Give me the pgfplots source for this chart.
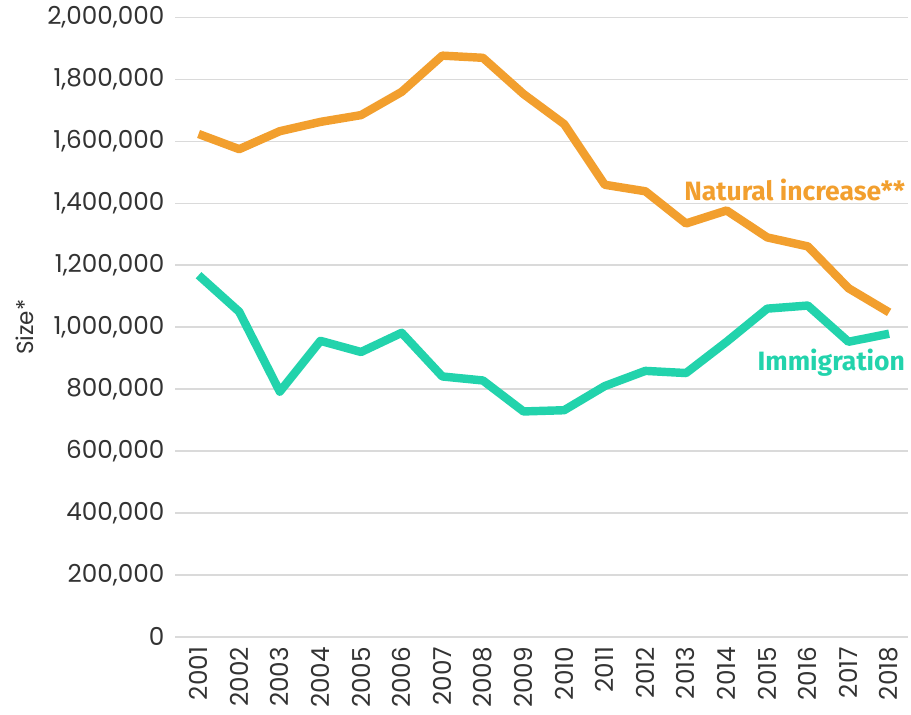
\documentclass[border=0pt]{standalone}
\usepackage{pgfplots}
\pgfplotsset{compat=1.18}
\usepackage{fontspec}
\setmainfont{Poppins}
\newfontfamily\labfont{Fira Sans}
\definecolor{natorange}{HTML}{F29F2E}
\definecolor{immteal}{HTML}{22D3AC}
\definecolor{gridgray}{HTML}{DADADA}
\definecolor{txtgray}{HTML}{333333}
\begin{document}
\begin{tikzpicture}
\begin{axis}[
  scale only axis,
  width=365pt, height=308.5pt,
  xmin=2000.43, xmax=2018.47,
  ymin=0, ymax=2000000,
  axis line style={draw=none},
  ytick={0,200000,...,2000000},
  xtick={2001,...,2018},
  ymajorgrids,
  grid style={gridgray, line width=0.8pt},
  major tick length=0pt,
  tick style={draw=none},
  scaled y ticks=false,
  /pgf/number format/assume math mode=true,
  yticklabel={\pgfmathprintnumber[fixed,1000 sep={,}]{\tick}},
  xticklabel={\pgfmathprintnumber[fixed,1000 sep={}]{\tick}},
  xticklabel style={rotate=90, anchor=east, xshift=-1.5pt},
  ticklabel style={font=\fontsize{12.3}{14}\selectfont, text=txtgray},
  yticklabel style={xshift=-2pt},
  ylabel={Size*},
  ylabel style={font=\fontsize{11.5}{13}\selectfont, text=txtgray},
  clip=false,
]
\addplot[natorange, line width=4.2pt, line join=round] coordinates {
(2001,1624000) (2002,1575000) (2003,1633000) (2004,1663000) (2005,1685000)
(2006,1760000) (2007,1877000) (2008,1870000) (2009,1753000) (2010,1656000)
(2011,1460000) (2012,1439000) (2013,1335000) (2014,1377000) (2015,1290000)
(2016,1261000) (2017,1126000) (2018,1048000)};
\addplot[immteal, line width=4.2pt, line join=round] coordinates {
(2001,1168000) (2002,1050000) (2003,792000) (2004,956000) (2005,920000)
(2006,982000) (2007,841000) (2008,828000) (2009,728000) (2010,732000)
(2011,810000) (2012,859000) (2013,852000) (2014,953000) (2015,1060000)
(2016,1070000) (2017,953000) (2018,979000)};
\node[anchor=east, font=\labfont\bfseries\fontsize{13.2}{15}\selectfont, text=natorange, inner sep=0pt] at (axis cs:2018.4,1442000) {Natural increase**};
\node[anchor=east, font=\labfont\bfseries\fontsize{13.2}{15}\selectfont, text=immteal, inner sep=0pt] at (axis cs:2018.4,885000) {Immigration};
\end{axis}
\path (current bounding box.west) ++(-4.5pt,0) coordinate (padl);
\path (padl) ++(0,0);
\path (current bounding box.east) ++(1pt,0);
\end{tikzpicture}
\end{document}
